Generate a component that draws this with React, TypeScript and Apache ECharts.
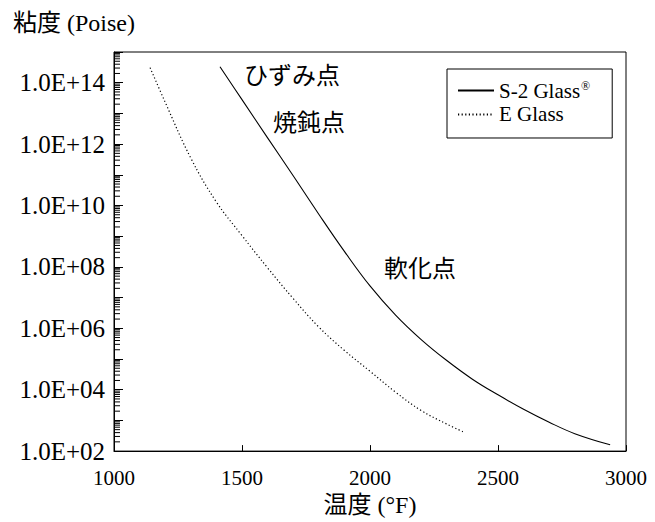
import React, { useEffect, useRef } from "react";
import * as echarts from "echarts";

const S2_NAME = "S-2 Glass";
const E_NAME = "E Glass";

const S2_TEMP = [1414, 1500, 1600, 1700, 1800, 1900, 2000, 2100, 2200, 2300, 2400, 2500, 2600, 2700, 2800, 2938];
const S2_VISC = [3.3e14, 2.8e13, 1.6e12, 9.3e10, 5.2e9, 3.2e8, 2.4e7, 2.7e6, 4.3e5, 8.9e4, 2.2e4, 6.8e3, 2.3e3, 8.7e2, 3.7e2, 1.6e2];

const E_TEMP = [1141, 1200, 1300, 1400, 1500, 1600, 1700, 1800, 1900, 2000, 2100, 2200, 2300, 2371];
const E_VISC = [3.1e14, 2.3e13, 3.5e11, 1.3e10, 1.05e9, 9.3e7, 9.3e6, 1.1e6, 1.9e5, 4.0e4, 8.3e3, 2.1e3, 7.6e2, 4.0e2];

const X_TICKS = [1000, 1500, 2000, 2500, 3000];
const Y_MIN = 1e2;
const Y_MAX = 1e15;
const MINOR_MANTISSAS = [2, 3, 4, 5, 6, 7, 8, 9];
const MINOR_EXPONENTS = [2, 3, 4, 5, 6, 7, 8, 9, 10, 11, 12, 13, 14];

const ANNOTATIONS = [
  { text: "ひずみ点", x: 292, y: 73 },
  { text: "焼鈍点", x: 309, y: 120 },
  { text: "軟化点", x: 420, y: 266 },
];

const FONT = "'Liberation Serif', 'Noto Sans CJK JP', serif";
const CJK = "'Noto Sans CJK JP', 'Liberation Serif', sans-serif";

export default function App() {
  const ref = useRef<HTMLDivElement>(null);
  useEffect(() => {
    if (!ref.current) return;
    const chart = echarts.init(ref.current, undefined, { renderer: "svg" });
    const minorTicks: number[][] = [];
    MINOR_EXPONENTS.forEach((e) => {
      MINOR_MANTISSAS.forEach((m) => minorTicks.push([X_TICKS[0], m * Math.pow(10, e)]));
    });
    chart.setOption({
      animation: false,
      backgroundColor: "#fff",
      grid: {
        left: 114,
        right: 29,
        top: 52,
        bottom: 61,
        show: true,
        borderColor: "#000",
        borderWidth: 1,
        backgroundColor: "transparent",
      },
      legend: {
        orient: "vertical",
        left: 447,
        top: 69,
        padding: [11, 22, 13, 10],
        itemGap: 3,
        itemWidth: 36,
        itemHeight: 14,
        borderColor: "#000",
        borderWidth: 1,
        borderRadius: 0,
        itemStyle: { opacity: 0 },
        data: [S2_NAME, E_NAME],
        formatter: (name: string) => (name === S2_NAME ? name + "{sup|®}" : name),
        textStyle: {
          fontFamily: FONT,
          fontSize: 21,
          color: "#000",
          rich: {
            sup: { fontFamily: FONT, fontSize: 12, color: "#000", verticalAlign: "top", padding: [0, 0, 8, 1] },
          },
        },
      },
      xAxis: {
        type: "value",
        min: X_TICKS[0],
        max: X_TICKS[X_TICKS.length - 1],
        interval: 500,
        name: "温度 (°F)",
        nameLocation: "middle",
        nameGap: 37,
        nameTextStyle: { fontFamily: FONT, fontSize: 24, color: "#000" },
        axisLine: { show: true, lineStyle: { color: "#000", width: 1 } },
        axisTick: { show: true, inside: true, length: 6, lineStyle: { color: "#000" } },
        axisLabel: {
          fontFamily: FONT,
          fontSize: 21,
          color: "#000",
          margin: 16,
          formatter: (v: number) => String(v),
        },
        splitLine: { show: false },
      },
      yAxis: {
        type: "log",
        logBase: 10,
        min: Y_MIN,
        max: Y_MAX,
        interval: 1,
        axisLine: { show: true, lineStyle: { color: "#000", width: 1 } },
        axisTick: { show: true, inside: true, length: 9, lineStyle: { color: "#000" } },
        axisLabel: {
          fontFamily: FONT,
          fontSize: 25,
          color: "#000",
          margin: 9,
          formatter: (v: number) => {
            const e = Math.round(Math.log10(v));
            if (e % 2 !== 0 || e > 14) return "";
            return "1.0E+" + (e < 10 ? "0" + e : String(e));
          },
        },
        splitLine: { show: false },
      },
      graphic: [
        {
          type: "text",
          left: 13,
          top: 11,
          style: { text: "粘度 (Poise)", fontFamily: FONT, fontSize: 24, fill: "#000" },
        },
        ...ANNOTATIONS.map((a) => ({
          type: "text",
          x: a.x,
          y: a.y,
          style: {
            text: a.text,
            fontFamily: CJK,
            fontSize: 24,
            fill: "#000",
            align: "center",
            verticalAlign: "middle",
          },
        })),
      ],
      series: [
        {
          name: S2_NAME,
          type: "line",
          smooth: 0.4,
          symbol: "none",
          data: S2_TEMP.map((t, i) => [t, S2_VISC[i]]),
          lineStyle: { color: "#000", width: 1.1, type: "solid" },
          itemStyle: { color: "#000" },
        },
        {
          name: E_NAME,
          type: "line",
          smooth: 0.4,
          symbol: "none",
          data: E_TEMP.map((t, i) => [t, E_VISC[i]]),
          lineStyle: { color: "#000", width: 1.2, type: [1.2, 2.4] },
          itemStyle: { color: "#000" },
        },
        {
          name: "minorTicks",
          type: "custom",
          silent: true,
          data: minorTicks,
          renderItem: (_params: any, api: any) => {
            const p = api.coord([api.value(0), api.value(1)]);
            return {
              type: "line",
              shape: { x1: p[0], y1: p[1], x2: p[0] + 6, y2: p[1] },
              style: { stroke: "#000", lineWidth: 1 },
            };
          },
        },
      ],
    });
    return () => chart.dispose();
  }, []);
  return <div ref={ref} style={{ position: "absolute", left: 0, top: 0, width: 655, height: 522 }} />;
}
